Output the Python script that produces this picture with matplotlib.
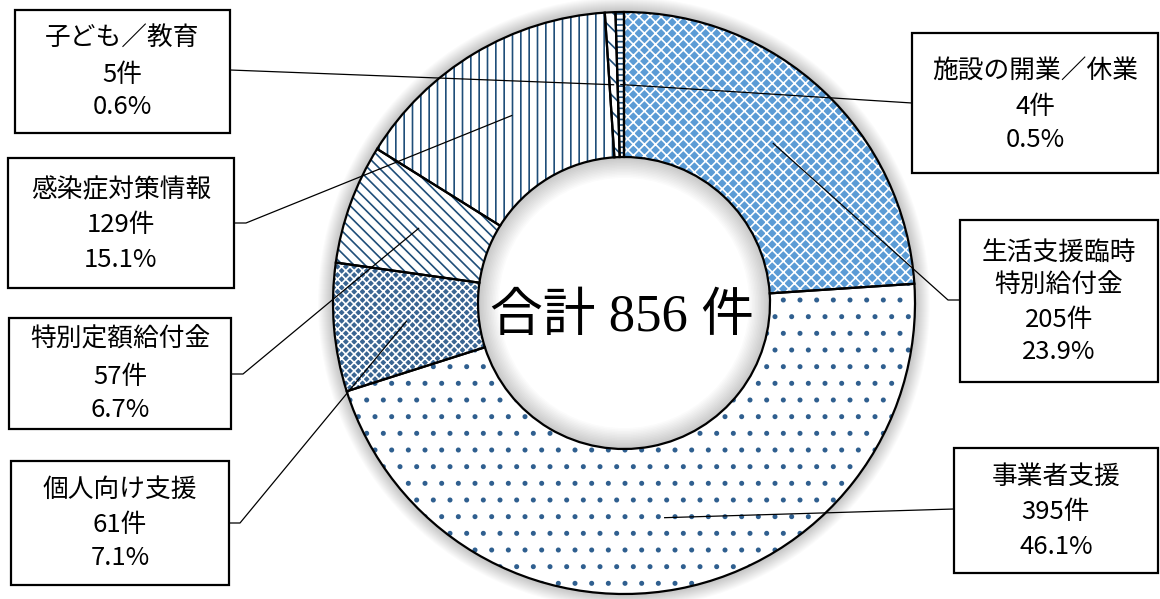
"""Donut chart of consultation counts by category (total 856)."""

import math

import matplotlib.pyplot as plt
from matplotlib.patches import Rectangle, Wedge

plt.rcParams["font.family"] = ["Noto Sans CJK JP", "DejaVu Sans"]
plt.rcParams["hatch.linewidth"] = 1.2

# data, clockwise from 12 o'clock
categories = ["生活支援臨時\n特別給付金", "事業者支援", "個人向け支援", "特別定額給付金",
              "感染症対策情報", "子ども／教育", "施設の開業／休業"]
counts = [205, 395, 61, 57, 129, 5, 4]
percents = [23.9, 46.1, 7.1, 6.7, 15.1, 0.6, 0.5]
total_label = "合計 856 件"

# styles per slice
face_colors = ["#5b9bd5", "white", "#3a6592", "white", "white", "white", "white"]
hatch_colors = ["white", "#2f5f8f", "white", "#1f4e79", "#1f4e79", "#1f4e79", "#1f4e79"]
hatches = ["xxx", ".", "xxxx", "\\\\\\", "||", "\\\\", "---"]

# layout in pixels (top-left origin): box (x0, y0, x1, y1), line centres, leader attach, elbow
W, H = 1160, 599
CX, CY, R_OUT, RING = 624, 303, 291, 145
boxes = [
    ((960, 220, 1158, 382), [253, 286, 320, 352], (960, 300), (948, 300)),
    ((954, 448, 1158, 573), [477, 512, 547], (954, 509), None),
    ((11, 461, 229, 585), [490, 525, 558], (229, 523), (240, 523)),
    ((9, 318, 231, 429), [340, 377, 410], (231, 374), (243, 374)),
    ((8, 158, 234, 288), [190, 225, 260], (234, 223), (246, 223)),
    ((15, 10, 230, 133), [38, 75, 107], (230, 70), None),
    ((912, 33, 1158, 173), [72, 107, 140], (912, 103), None),
]


def fy(y):
    return H - y


fig = plt.figure(figsize=(11.6, 5.99), dpi=100)
ax = fig.add_axes([0, 0, 1, 1])

center = (CX, fy(CY))

# soft shadow outside the ring and inside the hole
for k in range(14):
    d = 15 - k
    ax.add_patch(Wedge(center, R_OUT + d, 0, 360, width=d + 3,
                       color="black", alpha=0.016, lw=0, zorder=0))
for k in range(14):
    ax.add_patch(Wedge(center, R_OUT - RING, 0, 360, width=1.5 * (k + 1),
                       color="black", alpha=0.014, lw=0, zorder=1))

wedges, _ = ax.pie(counts, startangle=90, counterclock=False, radius=R_OUT, center=center,
                   colors=face_colors, hatch=hatches,
                   wedgeprops=dict(width=RING, linewidth=0))
for w, hc in zip(wedges, hatch_colors):
    w.set_edgecolor(hc)
    w.set_zorder(2)

outlines, _ = ax.pie(counts, startangle=90, counterclock=False, radius=R_OUT, center=center,
                     wedgeprops=dict(width=RING, facecolor="none", edgecolor="black", linewidth=1.6))
for w in outlines:
    w.set_zorder(3)

ax.text(CX - 2, fy(318), total_label, ha="center", va="center", fontsize=38,
        family=["Liberation Serif", "Noto Sans CJK JP"], zorder=6)

r_mid = R_OUT - RING / 2
for w, name, n, p, (box, line_ys, attach, elbow) in zip(wedges, categories, counts, percents, boxes):
    ang = math.radians((w.theta1 + w.theta2) / 2)
    px, py = CX + r_mid * math.cos(ang), fy(CY) + r_mid * math.sin(ang)
    xs, ys = [px], [py]
    if elbow:
        xs.append(elbow[0])
        ys.append(fy(elbow[1]))
    xs.append(attach[0])
    ys.append(fy(attach[1]))
    ax.plot(xs, ys, color="black", lw=0.9, zorder=4)

    x0, y0, x1, y1 = box
    ax.add_patch(Rectangle((x0, fy(y1)), x1 - x0, y1 - y0, facecolor="white",
                           edgecolor="black", lw=1.6, zorder=5))
    lines = name.split("\n") + [f"{n}件", f"{p:.1f}%"]
    for txt, ly in zip(lines, line_ys):
        ax.text((x0 + x1) / 2, fy(ly), txt, ha="center", va="center", fontsize=18.5, zorder=6)

ax.set_xlim(0, W)
ax.set_ylim(0, H)
ax.set_aspect("auto")
ax.axis("off")

fig.savefig("out.png", dpi=100)
